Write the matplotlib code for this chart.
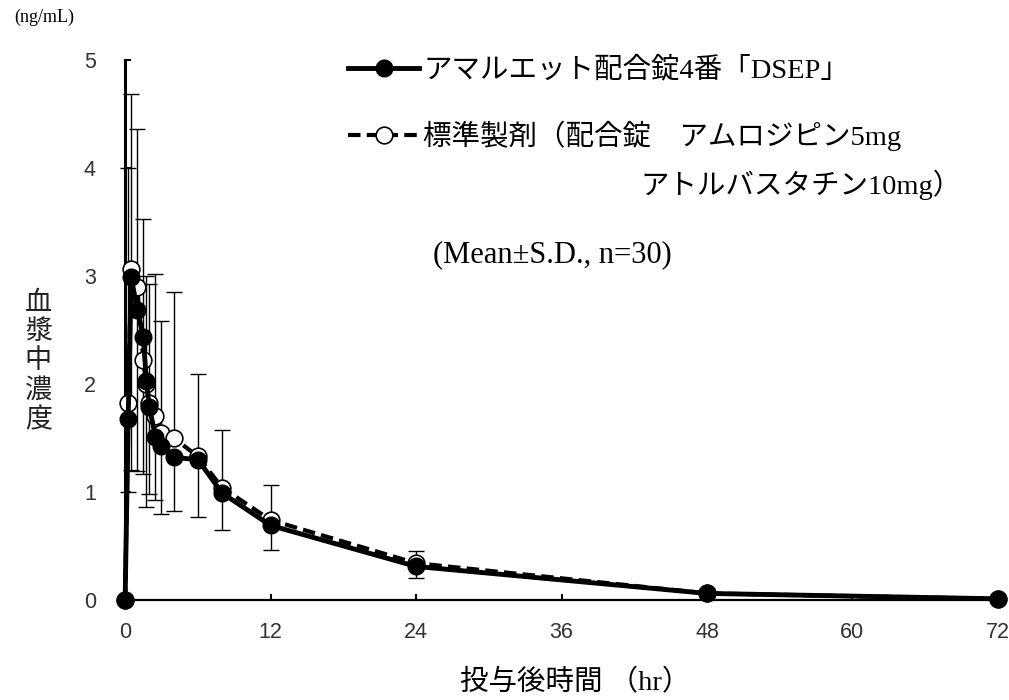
import matplotlib
matplotlib.use("Agg")
import matplotlib.pyplot as plt
import numpy as np

# time after dose (hr)
time_hr = [0, 0.25, 0.5, 1, 1.5, 1.75, 2, 2.5, 3, 4, 6, 8, 12, 24, 48, 72]

# アマルエット配合錠4番「DSEP」 (mean, lower S.D.)
test_mean = [0, 1.68, 2.99, 2.69, 2.44, 2.03, 1.79, 1.51, 1.43, 1.32, 1.30, 0.99, 0.69, 0.31, 0.06, 0.01]
test_sd = [0, 0.68, 1.79, 1.50, 1.27, 1.17, 0.81, 0.58, 0.63, 0.50, 0.53, 0.34, 0.23, 0.11, 0.03, 0]

# 標準製剤 (mean, upper S.D.)
ref_mean = [0, 1.82, 3.07, 2.90, 2.22, 2.00, 1.82, 1.70, 1.55, 1.50, 1.33, 1.04, 0.74, 0.34, 0.06, 0.01]
ref_sd = [0, 2.18, 1.62, 1.46, 1.31, 1.00, 1.11, 1.32, 1.03, 1.35, 0.76, 0.53, 0.32, 0.11, 0.04, 0]

x_ticks = [0, 12, 24, 36, 48, 60, 72]
y_ticks = [0, 1, 2, 3, 4, 5]

jp = ['Liberation Serif', 'Noto Sans CJK JP']

fig = plt.figure(figsize=(10.09, 7.0), dpi=100)
ax = fig.add_axes([0.124, 0.143, 0.865, 0.771])

zeros = np.zeros(len(time_hr))
ax.errorbar(time_hr, ref_mean, yerr=[zeros, ref_sd], fmt='none', ecolor='black',
            elinewidth=1, capsize=6, capthick=1, zorder=2, clip_on=False)
ax.errorbar(time_hr, test_mean, yerr=[test_sd, zeros], fmt='none', ecolor='black',
            elinewidth=1, capsize=6, capthick=1, zorder=2, clip_on=False)

h_ref, = ax.plot(time_hr, ref_mean, color='black', lw=3, dashes=(3, 1.5),
                 marker='o', ms=12, mfc='white', mec='black', mew=1.2,
                 zorder=3, clip_on=False)
h_test, = ax.plot(time_hr, test_mean, color='black', lw=3.5,
                  marker='o', ms=12, mfc='black', mec='black',
                  zorder=4, clip_on=False)

ax.set_xlim(0, 72)
ax.set_ylim(0, 5)
ax.set_xticks(x_ticks)
ax.set_yticks(y_ticks)
for s in ['top', 'right']:
    ax.spines[s].set_visible(False)
ax.spines['left'].set_linewidth(2.2)
ax.spines['bottom'].set_linewidth(1.6)
ax.tick_params(axis='both', direction='in', length=4, width=1.5,
               labelsize=15.5, labelcolor='#333333')
ax.tick_params(axis='y', pad=21)
ax.tick_params(axis='x', pad=16)
for lab in ax.get_xticklabels() + ax.get_yticklabels():
    lab.set_family('Liberation Sans')

leg = ax.legend([h_test, h_ref],
                ['アマルエット配合錠4番「DSEP」', '標準製剤（配合錠　アムロジピン5mg'],
                loc='upper left', bbox_to_anchor=(348 / 1009, 1 - 57 / 700),
                bbox_transform=fig.transFigure, frameon=False,
                prop={'family': jp, 'size': 20.5}, handlelength=2.5,
                handletextpad=0.15, labelspacing=1.3, borderpad=0,
                borderaxespad=0, numpoints=1)

fig.text(962 / 1009, 1 - 185 / 700, 'アトルバスタチン10mg）', family=jp, fontsize=20.5,
         ha='right', va='center')
fig.text(433 / 1009, 1 - 255 / 700, '(Mean±S.D., n=30)', family=jp, fontsize=22,
         ha='left', va='center')

fig.text(0.014, 0.975, '(ng/mL)', family='Liberation Serif', fontsize=13,
         ha='left', va='center')
fig.text(0.038, 0.483, '血\n漿\n中\n濃\n度', family=jp, fontsize=19.5, color='#222222',
         ha='center', va='center', linespacing=1.22)
fig.text(0.57, 0.024, '投与後時間 （hr）', family=jp, fontsize=20.5,
         ha='center', va='center')

fig.savefig('out.png', dpi=100)
